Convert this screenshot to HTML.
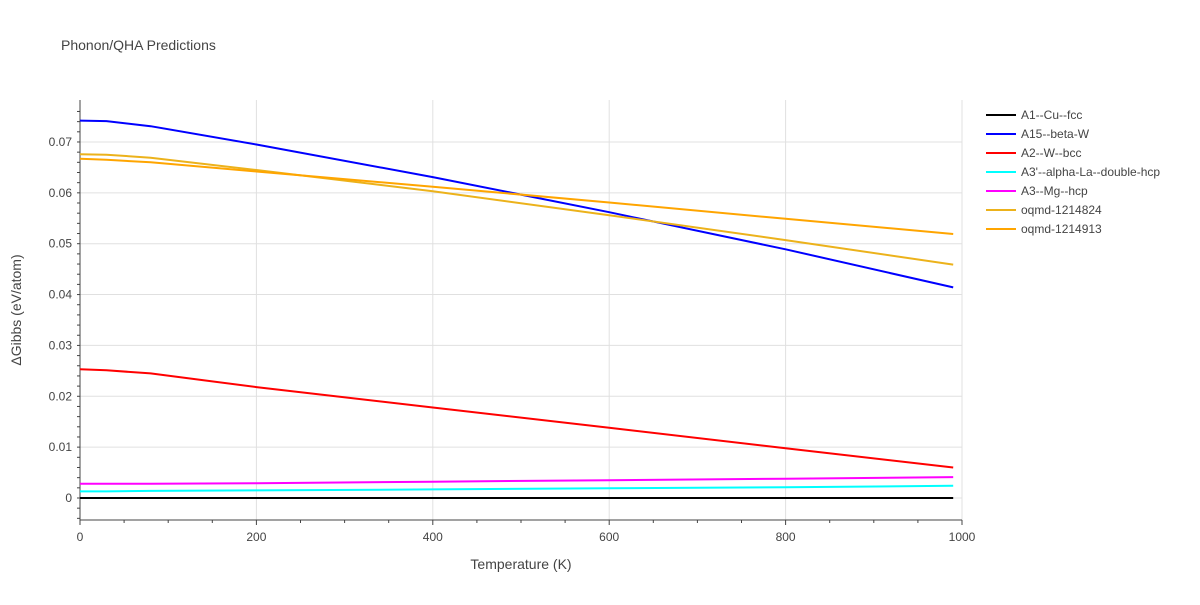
<!DOCTYPE html>
<html><head><meta charset="utf-8"><style>
body{margin:0;background:#fff;font-family:"Liberation Sans",sans-serif;}
svg text{font-family:"Liberation Sans",sans-serif;fill:#444;}
</style></head><body>
<svg id="chart" width="1200" height="600">
<text x="61" y="50" font-size="14">Phonon/QHA Predictions</text>
<g id="grid"></g><g id="axes"></g><g id="series"></g><g id="legend"></g>
<text x="521" y="569" font-size="14" text-anchor="middle">Temperature (K)</text>
<text transform="translate(21,310) rotate(-90)" font-size="14" text-anchor="middle">ΔGibbs (eV/atom)</text>
</svg>
<script>
const xTicks=[0,200,400,600,800,1000];
const yTicks=[0,0.01,0.02,0.03,0.04,0.05,0.06,0.07];
const yTickLabels=["0","0.01","0.02","0.03","0.04","0.05","0.06","0.07"];
const temps=[0,30,80,200,400,600,800,990];
const seriesNames=["A1--Cu--fcc","A15--beta-W","A2--W--bcc","A3'--alpha-La--double-hcp","A3--Mg--hcp","oqmd-1214824","oqmd-1214913"];
const seriesColors=["#000000","#0000ff","#ff0000","#00ffff","#ff00ff","#ecb21b","#ffa500"];
const sA1=[0,0,0,0,0,0,0,0];
const sA15=[0.0742,0.0741,0.0731,0.0695,0.0631,0.0562,0.0489,0.0414];
const sA2=[0.0253,0.0251,0.0245,0.0218,0.0178,0.0138,0.0098,0.0060];
const sA3p=[0.0013,0.0013,0.0014,0.0015,0.0017,0.0019,0.0021,0.0024];
const sA3=[0.0028,0.0028,0.0028,0.0029,0.0032,0.0035,0.0038,0.0041];
const sO1=[0.0676,0.0675,0.0669,0.0645,0.0603,0.0556,0.0507,0.0459];
const sO2=[0.0667,0.0665,0.0660,0.0642,0.0612,0.0581,0.0549,0.0519];
const allSeries=[sA1,sA15,sA2,sA3p,sA3,sO1,sO2];
const X0=80,X1=962,Y0=498,PT=100,PB=520;
const xs=v=>X0+(X1-X0)*v/1000;
const ys=v=>Y0-v*5086;
const NS="http://www.w3.org/2000/svg";
function mk(tag,attrs,parent){const e=document.createElementNS(NS,tag);for(const k in attrs)e.setAttribute(k,attrs[k]);parent.appendChild(e);return e;}
const grid=document.getElementById('grid'),axes=document.getElementById('axes'),ser=document.getElementById('series'),leg=document.getElementById('legend');
xTicks.forEach(t=>{
 if(t>0){const l=mk('line',{x1:xs(t),x2:xs(t),y1:PT,y2:PB,stroke:'#e0e0e0'},grid);
 
 }
 const tx=mk('text',{x:xs(t),y:541,'font-size':12,'text-anchor':'middle'},axes);tx.textContent=t;
 
 
});
for(let t=0;t<=1000;t+=50){mk('line',{x1:xs(t),x2:xs(t),y1:PB,y2:PB+(t%200==0?5:3),stroke:'#444'},axes);}
yTicks.forEach((t,i)=>{
 const l=mk('line',{x1:X0,x2:X1,y1:ys(t),y2:ys(t),stroke:'#e0e0e0'},grid);
 
 
 const tx=mk('text',{x:72,y:ys(t)+4,'font-size':12,'text-anchor':'end'},axes);tx.textContent=yTickLabels[i];
 
 
});
for(let v=-0.004;v<=0.078;v+=0.002){mk('line',{x1:X0-3,x2:X0,y1:ys(v),y2:ys(v),stroke:'#444'},axes);}
mk('line',{x1:X0,x2:X0,y1:PT,y2:PB,stroke:'#444'},axes);
mk('line',{x1:X0,x2:X1,y1:PB,y2:PB,stroke:'#444'},axes);
allSeries.forEach((arr,i)=>{
 const d=arr.map((v,j)=>(j?'L':'M')+xs(temps[j]).toFixed(1)+','+ys(v).toFixed(1)).join('');
 const p=mk('path',{d:d,fill:'none',stroke:seriesColors[i],'stroke-width':2},ser);
 
 
 const g=mk('g',{},leg);
 
 
 const y=115+i*19;
 mk('line',{x1:986,x2:1016,y1:y,y2:y,stroke:seriesColors[i],'stroke-width':2},g);
 const t=mk('text',{x:1021,y:y+4,'font-size':12},g);t.textContent=seriesNames[i];
});
</script>
</body></html>
